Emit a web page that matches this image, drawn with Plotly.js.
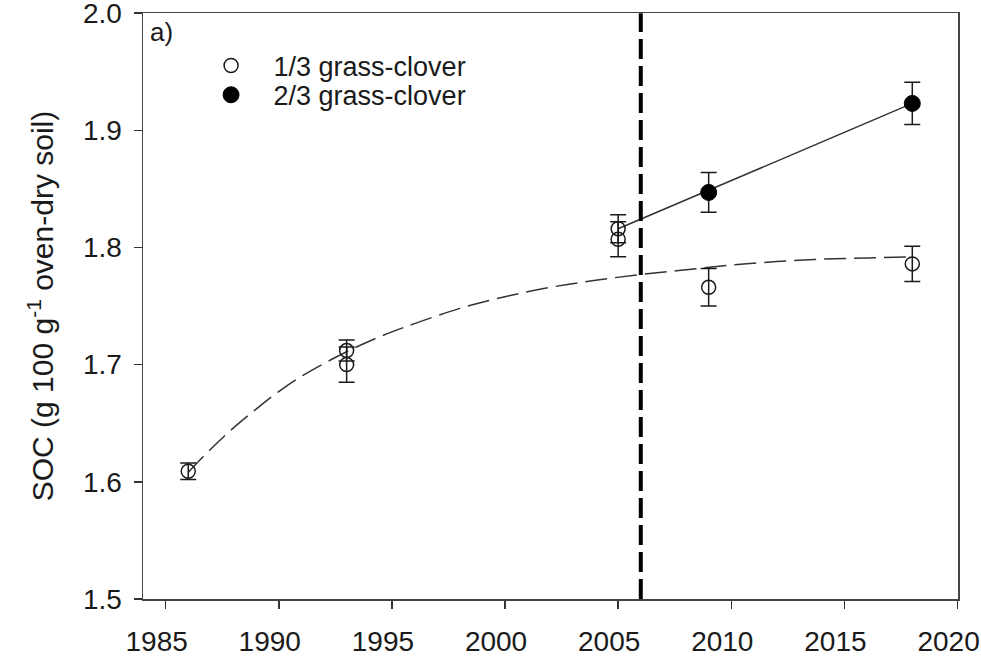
<!DOCTYPE html>
<html>
<head>
<meta charset="utf-8">
<script src="https://cdn.plot.ly/plotly-3.0.1.min.js"></script>
<style>html,body{margin:0;padding:0;background:#fff;overflow:hidden;}#chart{width:981px;height:662px;}</style>
</head>
<body>
<div id="chart"></div>
<script>
// 1/3 grass-clover (open circles)
var openYears = [1986, 1993, 1993, 2005, 2005, 2009, 2018];
var openSOC   = [1.609, 1.712, 1.700, 1.816, 1.807, 1.766, 1.786];
var openErr   = [0.007, 0.009, 0.015, 0.012, 0.015, 0.016, 0.015];
// 2/3 grass-clover (filled circles)
var filledYears = [2009, 2018];
var filledSOC   = [1.847, 1.923];
var filledErr   = [0.017, 0.018];
// fitted curve for 1/3 grass-clover (dashed)
var curveYears = [1986, 1987, 1988, 1989, 1990, 1991, 1992, 1993, 1994, 1995, 1996, 1998, 2000, 2002, 2004, 2006, 2008, 2010, 2012, 2014, 2016, 2018];
var curveSOC   = [1.608, 1.628, 1.646, 1.662, 1.677, 1.690, 1.701, 1.711, 1.720, 1.728, 1.735, 1.748, 1.758, 1.766, 1.772, 1.777, 1.781, 1.785, 1.788, 1.790, 1.791, 1.792];
// regression line for 2/3 grass-clover (solid)
var fitYears = [2005, 2018];
var fitSOC   = [1.816, 1.923];
// change of rotation
var changeYear = [2006, 2006];
var changeY    = [1.5, 2.0];
var xTicks = [1985, 1990, 1995, 2000, 2005, 2010, 2015, 2020];
var yTicks = [1.5, 1.6, 1.7, 1.8, 1.9, 2.0];
var yTickText = ['1.5', '1.6', '1.7', '1.8', '1.9', '2.0'];

var ink = '#1a1a1a';
var traces = [
  {x: curveYears, y: curveSOC, mode: 'lines', line: {color: '#333', width: 1.5, dash: '22px,8px', shape: 'spline'}, showlegend: false, hoverinfo: 'skip'},
  {x: fitYears, y: fitSOC, mode: 'lines', line: {color: '#333', width: 1.5}, showlegend: false, hoverinfo: 'skip'},
  {x: changeYear, y: changeY, mode: 'lines', line: {color: '#000', width: 4, dash: '20px,7px'}, showlegend: false, hoverinfo: 'skip'},
  {x: openYears, y: openSOC, mode: 'markers', name: '\u00a0\u00a0\u00a01/3 grass-clover', legend: 'legend',
   marker: {symbol: 'circle', size: 14, color: 'rgba(255,255,255,0)', line: {color: ink, width: 1.5}},
   error_y: {type: 'data', array: openErr, visible: true, color: ink, thickness: 1.5, width: 8}},
  {x: filledYears, y: filledSOC, mode: 'markers', name: '\u00a0\u00a0\u00a02/3 grass-clover', legend: 'legend2',
   marker: {symbol: 'circle', size: 16, color: '#000', line: {color: '#000', width: 1}},
   error_y: {type: 'data', array: filledErr, visible: true, color: ink, thickness: 1.5, width: 8}}
];

var fam = 'Arial, "Liberation Sans", sans-serif';
var axisFont = {family: fam, size: 28, color: ink};
var layout = {
  width: 981, height: 662,
  margin: {l: 143, r: 23, t: 13, b: 63},
  paper_bgcolor: '#fff', plot_bgcolor: '#fff',
  font: {family: fam, color: ink},
  xaxis: {range: [1984, 2020.02], tickvals: xTicks, ticktext: xTicks.map(String), ticks: 'outside', ticklen: 8, tickwidth: 1.5, tickcolor: '#333',
          showline: true, linecolor: '#444', linewidth: 1.5, mirror: true, showgrid: false, zeroline: false,
          tickfont: axisFont, ticklabelstandoff: 9, ticklabelshift: -9, ticklabeloverflow: 'allow'},
  yaxis: {range: [1.4999, 2.0002], tickvals: yTicks, ticktext: yTickText, ticks: 'outside', ticklen: 8, tickwidth: 1.5, tickcolor: '#333',
          showline: true, linecolor: '#444', linewidth: 1.5, mirror: true, showgrid: false, zeroline: false,
          tickfont: axisFont, ticklabelstandoff: 6, ticklabeloverflow: 'allow',
          title: {text: 'SOC (g 100 g<sup>-1</sup> oven-dry soil)', font: {family: fam, size: 30, color: ink}, standoff: 20}},
  legend: {x: 0.0835, y: 0.9515, xanchor: 'left', yanchor: 'top', bgcolor: 'rgba(0,0,0,0)', borderwidth: 0,
           font: {size: 27, color: ink, family: fam}},
  legend2: {x: 0.0835, y: 0.9015, xanchor: 'left', yanchor: 'top', bgcolor: 'rgba(0,0,0,0)', borderwidth: 0,
           font: {size: 27, color: ink, family: fam}},
  annotations: [{text: 'a)', xref: 'paper', yref: 'paper', x: 0.006, y: 0.997, xanchor: 'left', yanchor: 'top', showarrow: false,
                 font: {size: 26, color: ink, family: fam}}],
  showlegend: true
};
Plotly.newPlot('chart', traces, layout, {displayModeBar: false, staticPlot: true});
</script>
</body>
</html>
